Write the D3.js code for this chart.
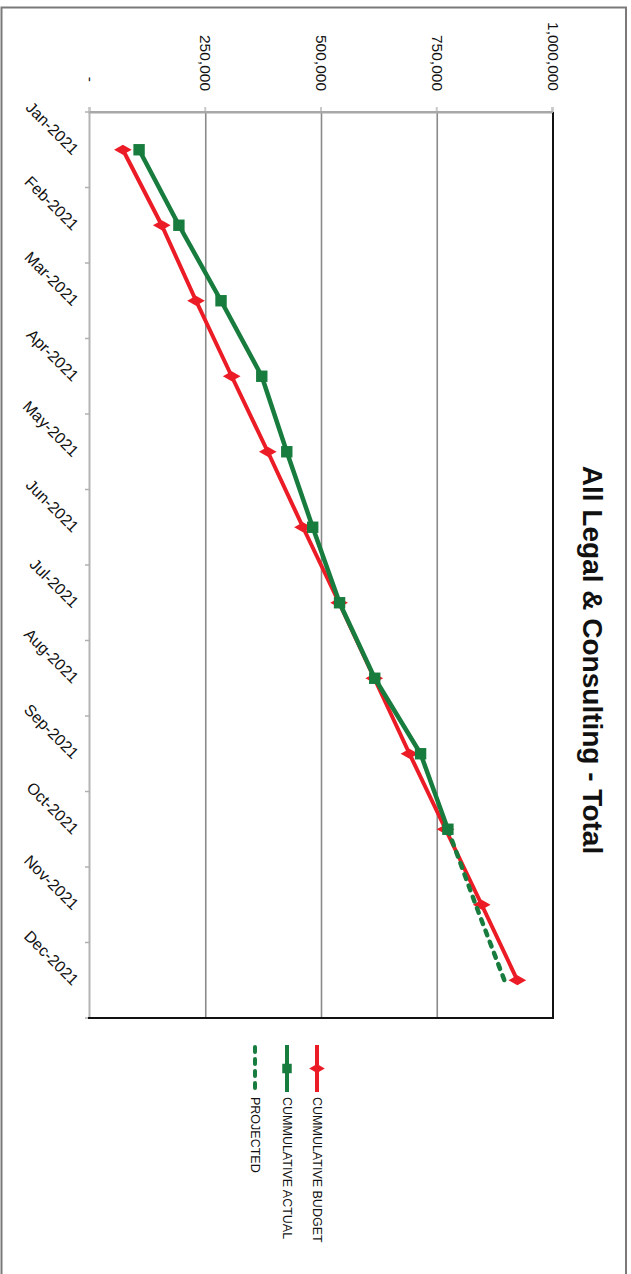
<!DOCTYPE html>
<html>
<head>
<meta charset="utf-8">
<script src="https://cdn.jsdelivr.net/npm/d3@7/dist/d3.min.js"></script>
<style>
  html, body { margin: 0; padding: 0; background: #fff; }
  svg { display: block; font-family: "Liberation Sans", Arial, sans-serif; }
</style>
</head>
<body>
<svg id="chart" width="631" height="1274"></svg>
<script>
// Monthly categories and cumulative totals
const months = ["Jan-2021", "Feb-2021", "Mar-2021", "Apr-2021", "May-2021", "Jun-2021",
                "Jul-2021", "Aug-2021", "Sep-2021", "Oct-2021", "Nov-2021", "Dec-2021"];
const budget = [71000, 155000, 229000, 306000, 384000, 460000, 538000, 614000, 690000, 768000, 846000, 923000];
const actual = [106000, 192000, 283000, 371000, 425000, 481000, 539000, 615000, 714000, 773000];
const projectedMonths = ["Oct-2021", "Nov-2021", "Dec-2021"];
const projected = [773000, 833000, 895000];
const valueTicks = [0, 250000, 500000, 750000, 1000000];
const seriesNames = ["CUMMULATIVE BUDGET", "CUMMULATIVE ACTUAL", "PROJECTED"];
const titleText = "All Legal & Consulting - Total";

const RED = "#ec1c26";
const GREEN = "#177c3d";

const svg = d3.select("#chart");
svg.append("rect").attr("width", 631).attr("height", 1274).attr("fill", "#fff");

// outer frame
svg.append("rect")
  .attr("x", 1.5).attr("y", 7.5).attr("width", 624.5).attr("height", 1300)
  .attr("fill", "none").attr("stroke", "#7a7a7a").attr("stroke-width", 2);

// The chart is laid out landscape and turned a quarter turn clockwise onto the page
const g = svg.append("g").attr("transform", "translate(631,0) rotate(90)");

const plot = { left: 112, right: 1018, top: 78, bottom: 541 };

const x = d3.scaleBand().domain(months).range([plot.left, plot.right]);
const cx = d => x(d) + x.bandwidth() / 2;
const y = d3.scaleLinear().domain([0, 1000000]).range([plot.bottom, plot.top]);

// title
g.append("text")
  .attr("x", 660).attr("y", 48)
  .attr("text-anchor", "middle")
  .attr("font-size", 28).attr("font-weight", "bold").attr("fill", "#111")
  .text(titleText);

// gridlines
g.append("g").selectAll("line")
  .data(valueTicks.filter(v => v > 0 && v < 1000000))
  .join("line")
  .attr("x1", plot.left).attr("x2", plot.right)
  .attr("y1", d => y(d)).attr("y2", d => y(d))
  .attr("stroke", "#8a8a8a").attr("stroke-width", 1.6);

// value axis
const yAxis = d3.axisLeft(y).tickValues(valueTicks).tickSize(5).tickPadding(16)
  .tickFormat(d => d === 0 ? "-" : d3.format(",")(d));
const ya = g.append("g").attr("transform", `translate(${plot.left},0)`).call(yAxis);
ya.select(".domain").attr("stroke", "#a8a8a8").attr("stroke-width", 2);
ya.selectAll(".tick line").attr("stroke", "#c8c8c8").attr("stroke-width", 2);
ya.selectAll(".tick text").attr("font-size", 15.5).attr("fill", "#111")
  .attr("font-family", "Liberation Sans, Arial, sans-serif")
  .attr("dx", d => d === 0 ? -9 : 0);

// category axis
const xAxis = d3.axisBottom(x).tickSize(0).tickFormat("");
const xa = g.append("g").attr("transform", `translate(0,${plot.bottom})`).call(xAxis);
xa.select(".domain").attr("stroke", "#b4b4b4").attr("stroke-width", 2);
xa.selectAll(".boundary")
  .data(months.concat(["end"]))
  .join("line")
  .attr("class", "boundary")
  .attr("x1", d => d === "end" ? plot.right : x(d))
  .attr("x2", d => d === "end" ? plot.right : x(d))
  .attr("y1", 0).attr("y2", 5)
  .attr("stroke", "#b0b0b0").attr("stroke-width", 1.5);
xa.selectAll(".cat")
  .data(months)
  .join("text")
  .attr("class", "cat")
  .attr("text-anchor", "end")
  .attr("font-size", 16).attr("fill", "#111")
  .attr("transform", d => `translate(${cx(d) + 6},${18}) rotate(-45)`)
  .text(d => d);

// plot border: dark on the far edges, light on the axis edges
g.append("line").attr("x1", plot.left).attr("x2", plot.right + 1)
  .attr("y1", plot.top).attr("y2", plot.top).attr("stroke", "#111").attr("stroke-width", 2);
g.append("line").attr("x1", plot.right).attr("x2", plot.right)
  .attr("y1", plot.top).attr("y2", plot.bottom + 2).attr("stroke", "#111").attr("stroke-width", 2);
g.append("line").attr("x1", plot.left).attr("x2", plot.left)
  .attr("y1", plot.top).attr("y2", plot.bottom).attr("stroke", "#a8a8a8").attr("stroke-width", 2);

// series
const line = d3.line().x(d => cx(d[0])).y(d => y(d[1]));

const budgetPts = months.map((m, i) => [m, budget[i]]);
const actualPts = actual.map((v, i) => [months[i], v]);
const projPts = projectedMonths.map((m, i) => [m, projected[i]]);

g.append("path").datum(budgetPts).attr("d", line)
  .attr("fill", "none").attr("stroke", RED).attr("stroke-width", 4).attr("stroke-linejoin", "round");
g.append("g").selectAll("path").data(budgetPts).join("path")
  .attr("transform", d => `translate(${cx(d[0])},${y(d[1])})`)
  .attr("d", d3.symbol(d3.symbolDiamond, 90))
  .attr("fill", RED);

g.append("path").datum(actualPts).attr("d", line)
  .attr("fill", "none").attr("stroke", GREEN).attr("stroke-width", 4.5).attr("stroke-linejoin", "round");
g.append("g").selectAll("path").data(actualPts).join("path")
  .attr("transform", d => `translate(${cx(d[0])},${y(d[1])})`)
  .attr("d", d3.symbol(d3.symbolSquare, 130))
  .attr("fill", GREEN);

g.append("path").datum(projPts).attr("d", line)
  .attr("fill", "none").attr("stroke", GREEN).attr("stroke-width", 4.5)
  .attr("stroke-linecap", "round")
  .attr("stroke-dasharray", "5,7");

// legend
const legendU = 1045, legendLen = 47;
const legendV = [314, 344, 376];
const lg = g.append("g");
seriesNames.forEach((name, i) => {
  const v = legendV[i];
  const row = lg.append("g");
  row.append("line")
    .attr("x1", legendU + (i === 2 ? 2 : 0)).attr("x2", legendU + legendLen)
    .attr("y1", v).attr("y2", v)
    .attr("stroke", i === 0 ? RED : GREEN).attr("stroke-width", 4)
    .attr("stroke-linecap", i === 2 ? "round" : "butt")
    .attr("stroke-dasharray", i === 2 ? "5,7" : null);
  if (i < 2) {
    row.append("path")
      .attr("transform", `translate(${legendU + legendLen / 2},${v})`)
      .attr("d", d3.symbol(i === 0 ? d3.symbolDiamond : d3.symbolSquare, i === 0 ? 70 : 90))
      .attr("fill", i === 0 ? RED : GREEN);
  }
  row.append("text")
    .attr("x", legendU + legendLen + 5).attr("y", v)
    .attr("dy", "0.36em")
    .attr("font-size", 12.5).attr("fill", "#111")
    .text(name);
});
</script>
</body>
</html>
